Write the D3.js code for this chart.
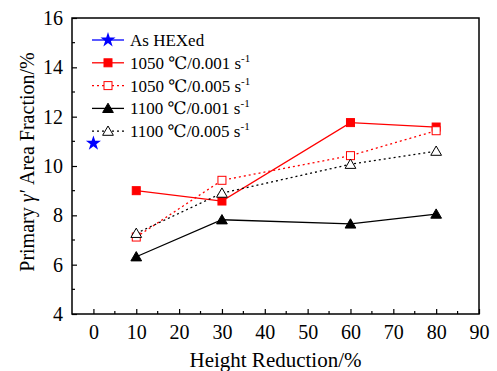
<!DOCTYPE html>
<html>
<head>
<meta charset="utf-8">
<script src="https://cdn.jsdelivr.net/npm/d3@7"></script>
<style>
  body { margin: 0; background: #fff; }
  svg, svg text { font-family: "Liberation Serif", "DejaVu Serif", serif !important; }
</style>
</head>
<body>
<div id="chart"></div>
<script>
// data
const reductions = [10, 30, 60, 80];
const hexed = [{ x: 0, y: 10.92 }];
const s1050_001 = [9.0, 8.58, 11.76, 11.58];
const s1050_005 = [7.12, 9.42, 10.42, 11.43];
const s1100_001 = [6.32, 7.82, 7.65, 8.05];
const s1100_005 = [7.27, 8.9, 10.07, 10.6];
const xTicks = [0, 10, 20, 30, 40, 50, 60, 70, 80, 90];
const yTicks = [4, 6, 8, 10, 12, 14, 16];

const series = [
  { name: "1050 \u2103/0.001 s", values: s1050_001, color: "#ff0000", dash: null, shape: "square", fill: true },
  { name: "1050 \u2103/0.005 s", values: s1050_005, color: "#ff0000", dash: "2,3", shape: "square", fill: false },
  { name: "1100 \u2103/0.001 s", values: s1100_001, color: "#000000", dash: null, shape: "triangle", fill: true },
  { name: "1100 \u2103/0.005 s", values: s1100_005, color: "#000000", dash: "2,3", shape: "triangle", fill: false }
];

const serif = "Liberation Serif, DejaVu Serif, serif";
const width = 497, height = 371;
const margin = { left: 72, top: 18, right: 18, bottom: 57 };

const svg = d3.select("#chart").append("svg")
  .attr("width", width)
  .attr("height", height)
  .attr("font-family", serif);

const x = d3.scaleLinear().domain([-5, 90]).range([margin.left, width - margin.right]);
const y = d3.scaleLinear().domain([4, 16]).range([height - margin.bottom, margin.top]);

// frame
svg.append("rect")
  .attr("x", x.range()[0]).attr("y", y.range()[1])
  .attr("width", x.range()[1] - x.range()[0])
  .attr("height", y.range()[0] - y.range()[1])
  .attr("fill", "none").attr("stroke", "#000").attr("stroke-width", 1.5);

// x axis, ticks pointing inward
const xAxis = svg.append("g")
  .attr("transform", `translate(0,${y(4)})`)
  .call(d3.axisBottom(x).tickValues(xTicks).tickSizeInner(-5).tickSizeOuter(0).tickPadding(11));
xAxis.attr("font-family", serif);
xAxis.select(".domain").remove();
xAxis.selectAll("text").attr("font-size", 20).attr("fill", "#000");
xAxis.selectAll("line").attr("stroke-width", 1.2);
svg.append("g")
  .selectAll("line")
  .data(d3.range(5, 90, 10))
  .enter().append("line")
  .attr("x1", d => x(d)).attr("x2", d => x(d))
  .attr("y1", y(4)).attr("y2", y(4) - 3)
  .attr("stroke", "#000").attr("stroke-width", 1.2);

// y axis
const yAxis = svg.append("g")
  .attr("transform", `translate(${x(-5)},0)`)
  .call(d3.axisLeft(y).tickValues(yTicks).tickSizeInner(-5).tickSizeOuter(0).tickPadding(9));
yAxis.attr("font-family", serif);
yAxis.select(".domain").remove();
yAxis.selectAll("text").attr("font-size", 20).attr("fill", "#000");
yAxis.selectAll("line").attr("stroke-width", 1.2);
svg.append("g")
  .selectAll("line")
  .data(d3.range(5, 16, 2))
  .enter().append("line")
  .attr("x1", x(-5)).attr("x2", x(-5) + 3)
  .attr("y1", d => y(d)).attr("y2", d => y(d))
  .attr("stroke", "#000").attr("stroke-width", 1.2);

// axis titles
svg.append("text")
  .attr("x", (x.range()[0] + x.range()[1]) / 2)
  .attr("y", height - 4)
  .attr("text-anchor", "middle")
  .attr("font-size", 21)
  .text("Height Reduction/%");

const yTitle = svg.append("text")
  .attr("transform", `translate(34,162) rotate(-90)`)
  .attr("text-anchor", "middle")
  .attr("font-size", 20);
yTitle.append("tspan").text("Primary ");
yTitle.append("tspan").attr("font-style", "italic").text("\u03b3\u2032");
yTitle.append("tspan").text(" Area Fraction/%");

// marker helpers
function drawMarker(g, shape, cx, cy, color, fill) {
  if (shape === "square") {
    g.append("rect")
      .attr("x", cx - 4).attr("y", cy - 4).attr("width", 8).attr("height", 8)
      .attr("fill", fill ? color : "#fff").attr("stroke", color).attr("stroke-width", 1);
  } else if (shape === "triangle") {
    g.append("path")
      .attr("d", d3.symbol(d3.symbolTriangle, 50)())
      .attr("transform", `translate(${cx},${cy + 1})`)
      .attr("fill", fill ? color : "#fff").attr("stroke", color).attr("stroke-width", 1);
  } else if (shape === "star") {
    g.append("path")
      .attr("d", d3.symbol(d3.symbolStar, 70)())
      .attr("transform", `translate(${cx},${cy})`)
      .attr("fill", color).attr("stroke", "none");
  }
}

const line = d3.line().x(d => x(d[0])).y(d => y(d[1]));

const plot = svg.append("g");
series.forEach(s => {
  const pts = reductions.map((r, i) => [r, s.values[i]]);
  plot.append("path")
    .datum(pts)
    .attr("d", line)
    .attr("fill", "none")
    .attr("stroke", s.color)
    .attr("stroke-width", 1.3)
    .attr("stroke-dasharray", s.dash);
});
series.forEach(s => {
  reductions.forEach((r, i) => drawMarker(plot, s.shape, x(r), y(s.values[i]), s.color, s.fill));
});
hexed.forEach(d => drawMarker(plot, "star", x(d.x), y(d.y), "#0000ff", true));

// legend
const legend = svg.append("g").attr("transform", "translate(92,40)");
const legendItems = [{ name: "As HEXed", color: "#0000ff", dash: null, shape: "star", fill: true, sup: false }]
  .concat(series.map(s => Object.assign({}, s, { sup: true })));
legendItems.forEach((d, i) => {
  const g = legend.append("g").attr("transform", `translate(0,${i * 22.8})`);
  g.append("line")
    .attr("x1", 0).attr("x2", 32).attr("y1", 0).attr("y2", 0)
    .attr("stroke", d.color).attr("stroke-width", 1.3)
    .attr("stroke-dasharray", d.dash);
  drawMarker(g, d.shape, 16, 0, d.color, d.fill);
  const t = g.append("text")
    .attr("x", 38).attr("y", 6)
    .attr("font-size", 17)
    .text(d.name);
  if (d.sup) {
    t.append("tspan").attr("dy", -7).attr("font-size", 11).text("-1");
  }
});
</script>
</body>
</html>
